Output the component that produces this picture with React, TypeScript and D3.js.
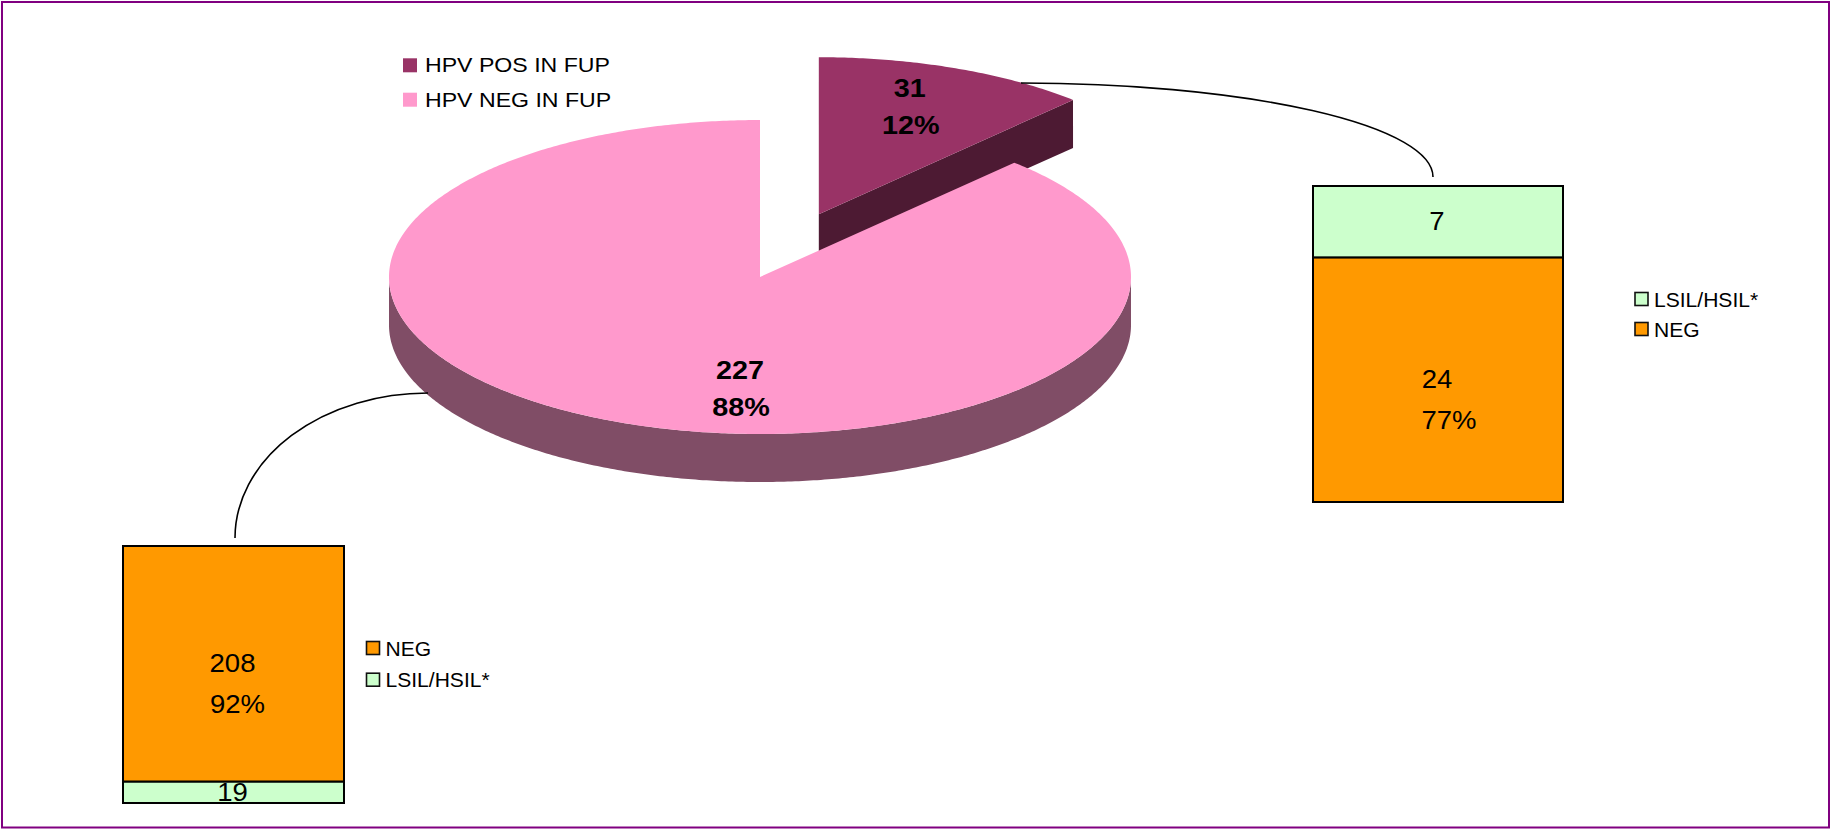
import React from "react";
import * as d3 from "d3";

// ---------- data ----------
const pieCategories = ["HPV POS IN FUP", "HPV NEG IN FUP"];
const pieValues = [31, 227];
const pieTopColors = ["#993366", "#FF99CC"];
const pieSideColors = ["#4D1A33", "#804D66"];

const leftBarCategories = ["NEG", "LSIL/HSIL*"]; // legend order (top series first)
const leftBarValues = [208, 19];
const rightBarCategories = ["LSIL/HSIL*", "NEG"];
const rightBarValues = [7, 24];
const barColors: Record<string, string> = { NEG: "#FF9900", "LSIL/HSIL*": "#CCFFCC" };
const percentCategories = ["NEG"];

// ---------- layout ----------
const W = 1831;
const H = 829;
const FONT = "'Liberation Sans', Arial, Helvetica, sans-serif";
const CX = 760, CY = 277, RX = 371, RY = 157, DEPTH = 48, EXPLODE = 0.43;

function T(props: any) {
  const { x, y, size, weight, anchor, sx, children } = props;
  return (
    <text
      transform={`translate(${x},${y}) scale(${sx ?? 1},1)`}
      fontSize={size}
      fontWeight={weight ?? "normal"}
      textAnchor={anchor ?? "middle"}
      fontFamily={FONT}
      fill="#000"
    >
      {children}
    </text>
  );
}

function rim(a: number, ox: number, oy: number, dz = 0): [number, number] {
  return [CX + ox + RX * Math.sin(a), CY + oy - RY * Math.cos(a) + dz];
}
function arcPts(a0: number, a1: number, ox: number, oy: number, dz = 0) {
  const n = Math.max(2, Math.ceil(Math.abs(a1 - a0) / 0.01));
  return d3.range(n + 1).map((i) => rim(a0 + ((a1 - a0) * i) / n, ox, oy, dz));
}
const line = d3.line();

function Pie3D() {
  const arcs = d3.pie<number>().sort(null).startAngle(0).endAngle(2 * Math.PI)(pieValues);
  const total = d3.sum(pieValues);
  const offs = arcs.map((a, i) => {
    if (i !== 0) return [0, 0];
    const m = (a.startAngle + a.endAngle) / 2;
    return [EXPLODE * RX * Math.sin(m), -EXPLODE * RY * Math.cos(m)];
  });
  const els: any[] = [];
  arcs.forEach((a, i) => {
    const [ox, oy] = offs[i];
    const c: [number, number] = [CX + ox, CY + oy];
    // radial face at end angle (visible when facing front)
    const ea = a.endAngle;
    if (Math.sin(ea) > 0 && Math.cos(ea) > -1 && ea < Math.PI) {
      const p = rim(ea, ox, oy);
      const face: [number, number][] = [c, p, [p[0], p[1] + DEPTH], [c[0], c[1] + DEPTH]];
      if (i === 0) els.push(<path key={"rf" + i} d={line(face) + "Z"} fill={pieSideColors[i]} />);
    }
    // rim side
    const s0 = Math.max(a.startAngle, Math.PI / 2);
    const s1 = Math.min(a.endAngle, (3 * Math.PI) / 2);
    if (s1 > s0) {
      const top = arcPts(s0, s1, ox, oy);
      const bot = arcPts(s1, s0, ox, oy, DEPTH);
      els.push(<path key={"side" + i} d={line([...top, ...bot]) + "Z"} fill={pieSideColors[i]} />);
    }
    const topFace = [c, ...arcPts(a.startAngle, a.endAngle, ox, oy)];
    els.push(<path key={"top" + i} d={line(topFace as any) + "Z"} fill={pieTopColors[i]} />);
  });
  // labels
  const pct = pieValues.map((v) => Math.round((v / total) * 100) + "%");
  const labelPos = [
    [CX + offs[0][0] + 91, CY + offs[0][1] - 117],
    [CX - 20, CY + 102],
  ];
  labelPos.forEach(([lx, ly], i) => {
    els.push(
      <T key={"lv" + i} x={lx} y={ly} size={25} weight="bold" sx={1.15}>{pieValues[i]}</T>,
      <T key={"lp" + i} x={lx + 1} y={ly + 36.5} size={25} weight="bold" sx={1.15}>{pct[i]}</T>
    );
  });
  return <g>{els}</g>;
}

function PieLegend() {
  return (
    <g>
      {pieCategories.map((c, i) => (
        <g key={c}>
          <rect x={403} y={58.3 + i * 34.4} width={14} height={14} fill={pieTopColors[i]} />
          <T x={425} y={72.3 + i * 34.4} size={19.6} anchor="start" sx={1.18}>{c}</T>
        </g>
      ))}
    </g>
  );
}

function StackBar(props: any) {
  const { x0, x1, yTop, yBottom, cats, vals, pctDx, lx, ly, lstep } = props;
  const total = d3.sum(vals as number[]);
  const y = d3.scaleLinear().domain([0, total]).range([yBottom, yTop]);
  const order = [...cats].reverse();
  const ordVals = [...vals].reverse();
  let acc = 0;
  const segs = order.map((c: string, i: number) => {
    const s = { c, v: ordVals[i], y0: acc, y1: acc + ordVals[i] };
    acc += ordVals[i];
    return s;
  });
  const cxm = (x0 + x1) / 2;
  return (
    <g>
      {segs.map((s: any) => (
        <rect key={s.c} x={x0} y={y(s.y1)} width={x1 - x0} height={y(s.y0) - y(s.y1)}
          fill={barColors[s.c]} stroke="#000" strokeWidth={2} />
      ))}
      {segs.map((s: any) => {
        const mid = (y(s.y0) + y(s.y1)) / 2;
        const showP = percentCategories.includes(s.c);
        return (
          <g key={"l" + s.c}>
            <T x={cxm - 1} y={mid + 8.5} size={25} sx={1.1}>{s.v}</T>
            {showP && (
              <T x={cxm + pctDx} y={mid + 49.5} size={25} sx={1.1}>
                {Math.round((s.v / total) * 100) + "%"}
              </T>
            )}
          </g>
        );
      })}
      {cats.map((c: string, i: number) => (
        <g key={"lg" + c}>
          <rect x={lx} y={ly + i * lstep} width={13} height={13} fill={barColors[c]} stroke="#111" strokeWidth={1.6} />
          <T x={lx + 19} y={ly + 14 + i * lstep} size={19.5} anchor="start" sx={1.08}>{c}</T>
        </g>
      ))}
    </g>
  );
}

export default function App() {
  return (
    <svg width={W} height={H} style={{ position: "absolute", left: 0, top: 0, display: "block", background: "#fff" }}>
      <rect x={2} y={2} width={W - 4} height={H - 3.5} fill="#fff" stroke="#800080" strokeWidth={2} />
      <Pie3D />
      <PieLegend />
      <path d="M 1021,83 A 412 94 0 0 1 1433,177" fill="none" stroke="#000" strokeWidth={1.6} />
      <path d="M 428,393 A 193 145 0 0 0 235,538" fill="none" stroke="#000" strokeWidth={1.6} />
      <StackBar x0={123} x1={344} yTop={546} yBottom={803} cats={leftBarCategories} vals={leftBarValues}
        pctDx={4} lx={366.5} ly={641.5} lstep={31.7} />
      <StackBar x0={1313} x1={1563} yTop={186} yBottom={502} cats={rightBarCategories} vals={rightBarValues}
        pctDx={11} lx={1635} ly={292.5} lstep={30} />
    </svg>
  );
}
